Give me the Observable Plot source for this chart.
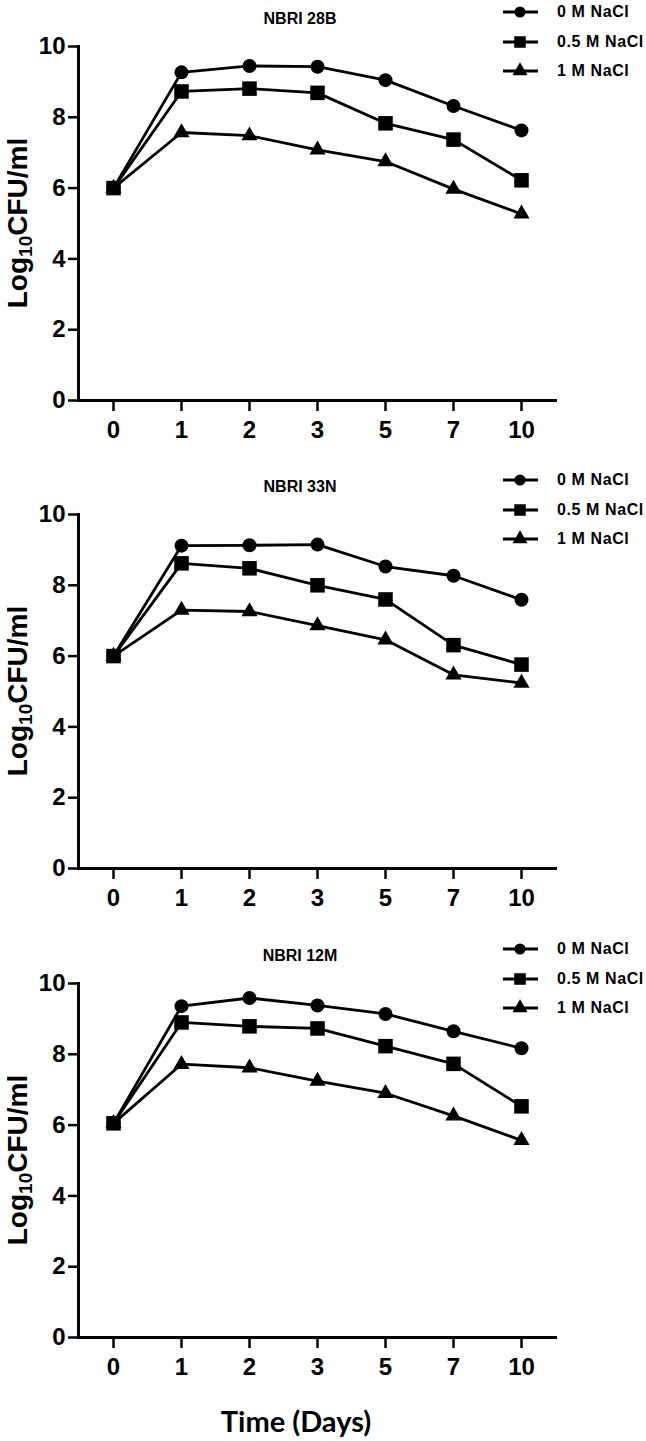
<!DOCTYPE html>
<html>
<head>
<meta charset="utf-8">
<script src="https://cdn.jsdelivr.net/npm/d3@7"></script>
<script src="https://cdn.jsdelivr.net/npm/@observablehq/plot@0.6"></script>
<style>
  body { margin: 0; background: #fff; }
  #root { position: relative; width: 646px; height: 1441px; overflow: hidden; background: #fff; }
  .panel { position: absolute; left: 0; width: 646px; height: 440px; }
  .panel svg text { font-family: "Liberation Sans", Arimo, Arial, sans-serif !important; font-size: 24px !important; font-weight: bold !important; fill: #000; }
  .title { position: absolute; left: 0; width: 600px; text-align: center; font: bold 16px "Liberation Sans", Arimo, Arial, sans-serif; line-height: 16px; color: #000; }
  .legrow { position: absolute; left: 0; height: 20px; white-space: nowrap; }
  .legrow svg { position: absolute; left: 0; top: 0; }
  .legrow span { position: absolute; left: 54px; top: 0; font: bold 16px "Liberation Sans", Arimo, Arial, sans-serif; letter-spacing: 0.6px; line-height: 20px; color: #000; }
  .ylabel { position: absolute; width: 300px; left: -132px; text-align: center; font: bold 28px "Liberation Sans", Arimo, Arial, sans-serif; line-height: 28px; transform: rotate(-90deg); color: #000; }
  .ylabel sub { font-size: 19px; vertical-align: -5px; line-height: 0; }
  .xlabel { position: absolute; left: 146px; width: 300px; text-align: center; top: 1403px; font: bold 29px Lato, "Open Sans", sans-serif; line-height: 36px; color: #000; }
</style>
</head>
<body>
<div id="root"></div>
<script>
// ---- data ----
const days = ["0", "1", "2", "3", "5", "7", "10"];
const treatments = ["0 M NaCl", "0.5 M NaCl", "1 M NaCl"];
const strains = ["NBRI 28B", "NBRI 33N", "NBRI 12M"];
const yTicks = [0, 2, 4, 6, 8, 10];

const s28B_0M  = [6.00, 9.27, 9.45, 9.43, 9.05, 8.32, 7.63];
const s28B_05M = [6.00, 8.73, 8.81, 8.69, 7.83, 7.37, 6.22];
const s28B_1M  = [6.00, 7.57, 7.48, 7.08, 6.75, 5.97, 5.27];

const s33N_0M  = [6.00, 9.12, 9.13, 9.15, 8.53, 8.27, 7.59];
const s33N_05M = [6.00, 8.62, 8.48, 8.00, 7.60, 6.31, 5.76];
const s33N_1M  = [6.00, 7.30, 7.26, 6.86, 6.46, 5.47, 5.24];

const s12M_0M  = [6.05, 9.36, 9.59, 9.38, 9.14, 8.65, 8.17];
const s12M_05M = [6.05, 8.90, 8.79, 8.73, 8.23, 7.73, 6.53];
const s12M_1M  = [6.05, 7.72, 7.62, 7.24, 6.90, 6.26, 5.57];

const strainSeries = [
  [s28B_0M, s28B_05M, s28B_1M],
  [s33N_0M, s33N_05M, s33N_1M],
  [s12M_0M, s12M_05M, s12M_1M]
];

// ---- styling ----
const symbols = ["circle", "square", "triangle"];
const radii = [7, 8.2, 6];
const legendRadii = [5.6, 6.5, 5.6];
const d3symbols = [d3.symbolCircle, d3.symbolSquare, d3.symbolTriangle];
const panelTops = [0, 468, 937];
const root = document.getElementById("root");

strains.forEach((strain, p) => {
  const rows = [];
  strainSeries[p].forEach((vals, s) => {
    vals.forEach((v, i) => rows.push({ day: days[i], value: v, treatment: treatments[s] }));
  });

  const chart = Plot.plot({
    width: 646,
    height: 440,
    marginLeft: 78,
    marginRight: 91,
    marginTop: 46,
    marginBottom: 40,
    style: { fontFamily: "Liberation Sans, Arimo, Arial, sans-serif", fontWeight: "bold", fontSize: "24px", color: "#000", background: "transparent", overflow: "visible" },
    x: { type: "point", domain: days, padding: 0.5, label: null },
    y: { domain: [0, 10], label: null },
    marks: [
      Plot.axisX({ tickSize: 11, tickPadding: 9, strokeWidth: 2.5, fontSize: 24, fontWeight: "bold", label: null }),
      Plot.axisY({ ticks: yTicks, tickSize: 10, tickPadding: 3, strokeWidth: 2.5, fontSize: 24, fontWeight: "bold", label: null }),
      Plot.frame({ anchor: "left", strokeWidth: 3 }),
      Plot.frame({ anchor: "bottom", strokeWidth: 3 }),
      Plot.line(rows, { x: "day", y: "value", z: "treatment", stroke: "#000", strokeWidth: 2.8 }),
      ...treatments.map((t, s) =>
        Plot.dot(rows.filter(d => d.treatment === t), {
          x: "day", y: "value", symbol: symbols[s], r: radii[s], fill: "#000", stroke: "none"
        })
      )
    ]
  });

  const panel = document.createElement("div");
  panel.className = "panel";
  panel.style.top = panelTops[p] + "px";
  panel.appendChild(chart);
  root.appendChild(panel);

  // title
  const title = document.createElement("div");
  title.className = "title";
  title.style.top = (panelTops[p] + 11) + "px";
  title.textContent = strain;
  root.appendChild(title);

  // y label
  const yl = document.createElement("div");
  yl.className = "ylabel";
  yl.style.top = (panelTops[p] + 223 - 14) + "px";
  yl.innerHTML = "Log<sub>10</sub>CFU/ml";
  root.appendChild(yl);

  // legend
  const legendRowY = [12, 42, 71];
  treatments.forEach((t, s) => {
    const row = document.createElement("div");
    row.className = "legrow";
    row.style.left = "503px";
    row.style.top = (panelTops[p] + legendRowY[s] - 10) + "px";
    const svg = d3.create("svg").attr("width", 40).attr("height", 20);
    svg.append("line").attr("x1", 0).attr("x2", 35).attr("y1", 10).attr("y2", 10)
      .attr("stroke", "#000").attr("stroke-width", 3);
    svg.append("path")
      .attr("transform", "translate(17,10)")
      .attr("d", d3.symbol(d3symbols[s], Math.PI * legendRadii[s] * legendRadii[s])())
      .attr("fill", "#000");
    row.appendChild(svg.node());
    const span = document.createElement("span");
    span.textContent = t;
    row.appendChild(span);
    root.appendChild(row);
  });
});

const xl = document.createElement("div");
xl.className = "xlabel";
xl.textContent = "Time (Days)";
root.appendChild(xl);
</script>
</body>
</html>
